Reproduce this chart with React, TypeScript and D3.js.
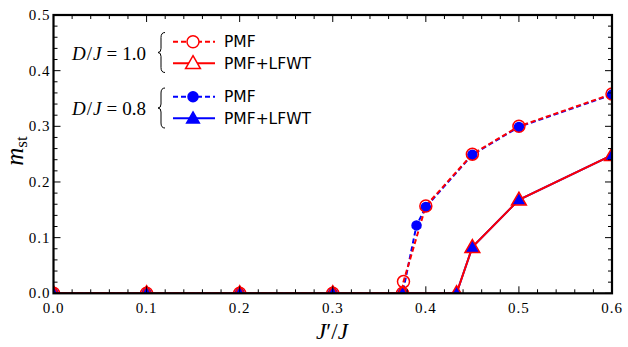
import React, { useEffect, useRef } from "react";
import * as d3 from "d3";

// J'/J values and m_st for each curve
const xPmf10 = [0, 0.1, 0.2, 0.3, 0.375, 0.376, 0.4, 0.45, 0.5, 0.6];
const yPmf10 = [0, 0, 0, 0, 0, 0.021, 0.157, 0.25, 0.3, 0.358];
const xLfwt10 = [0, 0.1, 0.2, 0.3, 0.375, 0.433, 0.45, 0.5, 0.6];
const yLfwt10 = [0, 0, 0, 0, 0, 0, 0.083, 0.168, 0.248];
const xPmf08 = [0, 0.1, 0.2, 0.3, 0.375, 0.39, 0.4, 0.45, 0.5, 0.6];
const yPmf08 = [0, 0, 0, 0, 0, 0.122, 0.155, 0.249, 0.299, 0.357];
const xLfwt08 = [0, 0.1, 0.2, 0.3, 0.375, 0.433, 0.45, 0.5, 0.6];
const yLfwt08 = [0, 0, 0, 0, 0, 0, 0.083, 0.168, 0.248];

const xTicks = [0, 0.1, 0.2, 0.3, 0.4, 0.5, 0.6];
const yTicks = [0, 0.1, 0.2, 0.3, 0.4, 0.5];

const W = 628;
const H = 347;
const left = 53.5, right = 612, top = 15, bottom = 293.3;

const zip = (xs: number[], ys: number[]) => xs.map((x, i) => [x, ys[i]] as [number, number]);

const App = () => {
  const ref = useRef<SVGSVGElement>(null);

  useEffect(() => {
    const svg = d3.select(ref.current);
    svg.selectAll("*").remove();

    const x = d3.scaleLinear().domain([0, 0.6]).range([left, right]);
    const y = d3.scaleLinear().domain([0, 0.5]).range([bottom, top]);

    svg.append("defs").append("clipPath").attr("id", "plotclip")
      .append("rect").attr("x", left).attr("y", top)
      .attr("width", right - left).attr("height", bottom - top);

    const line = d3.line<[number, number]>().x(d => x(d[0])).y(d => y(d[1]));
    const tri = (s: number) => d3.symbol().type(d3.symbolTriangle).size(s)();
    const plot = svg.append("g").attr("clip-path", "url(#plotclip)");

    // blue first, red open markers on top
    const series = [
      { data: zip(xPmf08, yPmf08), color: "blue", dash: "5,3", marker: "circle", fill: "blue", r: 4.5 },
      { data: zip(xLfwt08, yLfwt08), color: "blue", dash: null, marker: "tri", fill: "blue", r: 55 },
      { data: zip(xPmf10, yPmf10), color: "red", dash: "5,3", marker: "circle", fill: "none", r: 6 },
      { data: zip(xLfwt10, yLfwt10), color: "red", dash: null, marker: "tri", fill: "none", r: 95 },
    ];

    series.forEach(s => {
      plot.append("path").attr("d", line(s.data))
        .attr("fill", "none").attr("stroke", s.color).attr("stroke-width", 2)
        .attr("stroke-dasharray", s.dash);
    });
    series.forEach(s => {
      s.data.forEach(d => {
        if (s.marker === "circle") {
          plot.append("circle").attr("cx", x(d[0])).attr("cy", y(d[1])).attr("r", s.r)
            .attr("fill", s.fill).attr("stroke", s.color).attr("stroke-width", 1.5);
        } else {
          plot.append("path").attr("d", tri(s.r))
            .attr("transform", `translate(${x(d[0])},${y(d[1]) + 1})`)
            .attr("fill", s.fill).attr("stroke", s.color).attr("stroke-width", 1.5);
        }
      });
    });

    // ticks on all sides, pointing in
    const tg = svg.append("g").attr("stroke", "black").attr("stroke-width", 1);
    d3.range(0, 0.6001, 0.02).forEach(v => {
      const major = xTicks.some(t => Math.abs(t - v) < 1e-6);
      const len = major ? 7 : 4;
      tg.append("line").attr("x1", x(v)).attr("x2", x(v)).attr("y1", bottom).attr("y2", bottom - len);
      tg.append("line").attr("x1", x(v)).attr("x2", x(v)).attr("y1", top).attr("y2", top + len);
    });
    d3.range(0, 0.5001, 0.02).forEach(v => {
      const major = yTicks.some(t => Math.abs(t - v) < 1e-6);
      const len = major ? 7 : 4;
      tg.append("line").attr("y1", y(v)).attr("y2", y(v)).attr("x1", left).attr("x2", left + len);
      tg.append("line").attr("y1", y(v)).attr("y2", y(v)).attr("x1", right).attr("x2", right - len);
    });

    svg.append("rect").attr("x", left).attr("y", top)
      .attr("width", right - left).attr("height", bottom - top)
      .attr("fill", "none").attr("stroke", "black").attr("stroke-width", 2.2);

    const serif = "'Liberation Serif', serif";
    svg.append("g").selectAll("text").data(xTicks).join("text")
      .attr("x", d => x(d)).attr("y", bottom + 20)
      .attr("text-anchor", "middle").attr("font-family", serif).attr("font-size", 15)
      .attr("letter-spacing", 1)
      .text(d => d.toFixed(1));
    svg.append("g").selectAll("text").data(yTicks).join("text")
      .attr("x", left - 3).attr("y", d => y(d) + 5)
      .attr("text-anchor", "end").attr("font-family", serif).attr("font-size", 15)
      .attr("letter-spacing", 1)
      .text(d => d.toFixed(1));

    // axis labels
    const xl = svg.append("text").attr("x", 332).attr("y", 339)
      .attr("text-anchor", "middle").attr("font-family", serif).attr("font-size", 23);
    xl.append("tspan").attr("font-style", "italic").text("J");
    xl.append("tspan").text("′/");
    xl.append("tspan").attr("font-style", "italic").text("J");

    const yl = svg.append("text").attr("transform", "translate(23,151) rotate(-90)")
      .attr("text-anchor", "middle").attr("font-family", serif).attr("font-size", 25);
    yl.append("tspan").attr("font-style", "italic").text("m");
    yl.append("tspan").attr("font-size", 17).attr("dy", 4).text("st");

    // legend
    const groups = [
      { label: "1.0", color: "red", fill: "none", cy: 52.5, rows: [41.7, 63.3] },
      { label: "0.8", color: "blue", fill: "blue", cy: 108, rows: [96.7, 118.3] },
    ];
    const lg = svg.append("g");
    groups.forEach(g => {
      const t = lg.append("text").attr("x", 72).attr("y", g.cy + 7)
        .attr("font-family", serif).attr("font-size", 19);
      t.append("tspan").attr("font-style", "italic").text("D");
      t.append("tspan").attr("dx", 1).text("/");
      t.append("tspan").attr("font-style", "italic").attr("dx", 1).text("J");
      t.append("tspan").attr("dx", 5).text("=");
      t.append("tspan").attr("dx", 5).text(g.label);
      const bx = 160, t0 = g.cy - 20, t1 = g.cy + 20;
      lg.append("path")
        .attr("d", `M${bx + 5},${t0} Q${bx + 1},${t0} ${bx + 1},${t0 + 5} L${bx + 1},${g.cy - 4} Q${bx + 1},${g.cy} ${bx - 2},${g.cy} Q${bx + 1},${g.cy} ${bx + 1},${g.cy + 4} L${bx + 1},${t1 - 5} Q${bx + 1},${t1} ${bx + 5},${t1}`)
        .attr("fill", "none").attr("stroke", "black").attr("stroke-width", 1);
      g.rows.forEach((ry, i) => {
        lg.append("line").attr("x1", 173).attr("x2", 215).attr("y1", ry).attr("y2", ry)
          .attr("stroke", g.color).attr("stroke-width", 2)
          .attr("stroke-dasharray", i === 0 ? "5,3" : null);
        if (i === 0) {
          lg.append("circle").attr("cx", 193).attr("cy", ry).attr("r", g.fill === "none" ? 6 : 5)
            .attr("fill", g.fill === "none" ? "white" : g.fill).attr("stroke", g.color).attr("stroke-width", 1.5);
        } else {
          lg.append("path").attr("d", tri(g.fill === "none" ? 95 : 70))
            .attr("transform", `translate(193,${ry + 1})`)
            .attr("fill", g.fill === "none" ? "white" : g.fill).attr("stroke", g.color).attr("stroke-width", 1.5);
        }
        lg.append("text").attr("x", 224).attr("y", ry + 5.5)
          .attr("font-family", "'DejaVu Sans', sans-serif").attr("font-size", 15.5)
          .text(i === 0 ? "PMF" : "PMF+LFWT");
      });
    });
  }, []);

  return (
    <svg ref={ref} width={W} height={H} style={{ position: "absolute", left: 0, top: 0, background: "white" }} />
  );
};

export default App;
